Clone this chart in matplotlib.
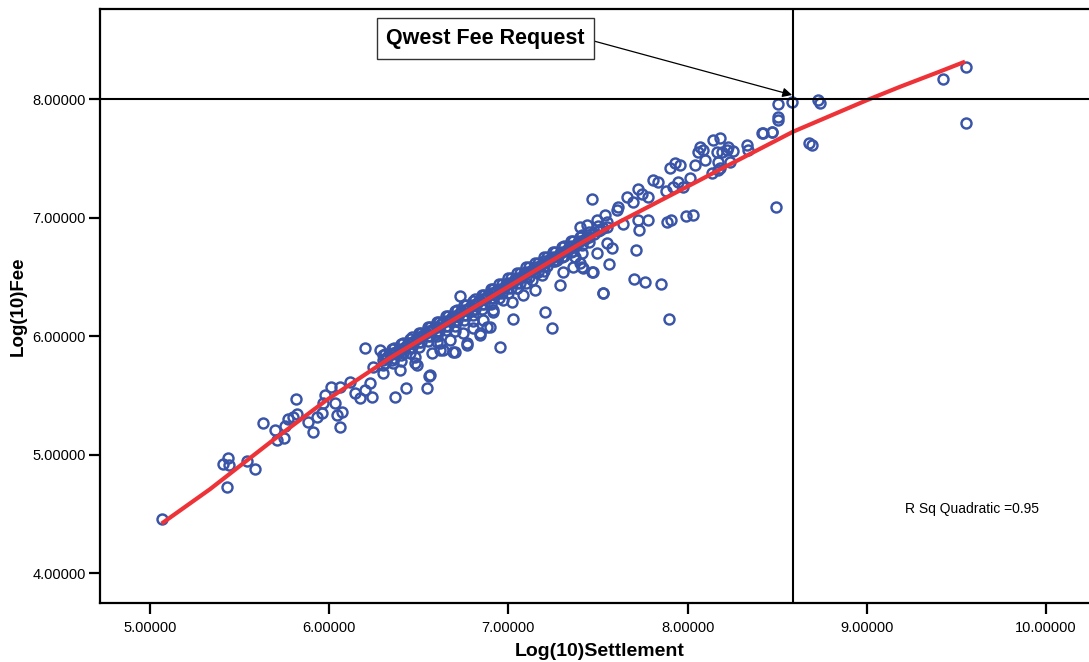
import matplotlib
matplotlib.use("Agg")
import matplotlib.pyplot as plt
import numpy as np

plt.rcParams['font.family'] = ['Liberation Sans', 'DejaVu Sans']

# ---- scatter data: Log(10)Settlement vs Log(10)Fee ----
settle_low = [5.065, 5.409, 5.437, 5.443, 5.431, 5.543, 5.586, 5.632, 5.698, 5.707,
              5.748, 5.753, 5.772, 5.800, 5.822, 5.815, 5.884, 5.911, 5.930, 5.958,
              5.964, 5.977, 6.008, 6.032, 6.042, 6.070, 6.060, 6.060, 6.116, 6.144,
              6.172, 6.200, 6.237, 6.228, 6.200, 6.283, 6.246, 6.302, 6.358, 6.367,
              6.358, 6.395]
fee_low = [4.459, 4.920, 4.970, 4.914, 4.726, 4.948, 4.880, 5.266, 5.209, 5.125,
           5.139, 5.243, 5.300, 5.316, 5.344, 5.470, 5.279, 5.195, 5.316, 5.350,
           5.434, 5.504, 5.574, 5.440, 5.336, 5.363, 5.237, 5.574, 5.616, 5.519,
           5.476, 5.546, 5.490, 5.603, 5.898, 5.884, 5.743, 5.687, 5.771, 5.490,
           5.856, 5.715]

settle_mid = [6.559, 6.544, 6.479, 6.693, 6.618, 6.953, 6.916, 6.879, 6.767, 6.842,
              6.488, 6.730, 7.027, 7.018, 7.204, 7.242, 7.288, 7.148, 7.465, 7.530,
              7.418, 7.362, 7.306, 6.916, 6.842, 6.767, 6.702, 6.637, 6.572, 6.479,
              6.860, 6.897, 6.804, 6.748, 6.674, 6.618, 7.130, 7.186, 7.046, 6.972,
              7.083, 7.372, 7.400, 7.493, 7.270, 6.563, 6.427]
fee_mid = [5.664, 5.560, 5.771, 5.870, 5.884, 5.911, 6.207, 6.080, 5.940, 6.024,
           5.757, 6.339, 6.142, 6.291, 6.201, 6.067, 6.432, 6.390, 6.544, 6.367,
           6.572, 6.586, 6.544, 6.221, 6.010, 5.926, 5.870, 5.884, 5.856, 5.827,
           6.137, 6.080, 6.067, 6.024, 5.968, 5.940, 6.474, 6.516, 6.404, 6.305,
           6.347, 6.670, 6.615, 6.699, 6.642, 5.673, 5.560]

settle_band = [6.30, 6.30, 6.30, 6.35, 6.35, 6.35, 6.40, 6.40, 6.40, 6.40,
               6.45, 6.45, 6.45, 6.45, 6.50, 6.50, 6.50, 6.50, 6.55, 6.55,
               6.55, 6.55, 6.60, 6.60, 6.60, 6.60, 6.60, 6.65, 6.65, 6.65,
               6.65, 6.70, 6.70, 6.70, 6.70, 6.70, 6.75, 6.75, 6.75, 6.75,
               6.80, 6.80, 6.80, 6.80, 6.80, 6.85, 6.85, 6.85, 6.85, 6.90,
               6.90, 6.90, 6.90, 6.95, 6.95, 6.95, 6.95, 7.00, 7.00, 7.00,
               7.00, 7.05, 7.05, 7.05, 7.05, 7.10, 7.10, 7.10, 7.10, 7.15,
               7.15, 7.15, 7.20, 7.20, 7.20, 7.20, 7.25, 7.25, 7.25, 7.30,
               7.30, 7.30, 7.35, 7.35, 7.35, 7.40, 7.40, 7.45, 7.45, 7.45,
               7.50, 7.50, 7.55, 7.55, 6.325, 6.375, 6.425, 6.475, 6.525, 6.575,
               6.625, 6.675, 6.725, 6.775, 6.825, 6.875, 6.925, 6.975, 7.025, 7.075,
               7.125, 7.175, 7.225, 7.275, 7.325, 7.375, 7.425, 7.475, 7.525]
fee_band = [5.84, 5.80, 5.76, 5.89, 5.85, 5.80, 5.93, 5.88, 5.84, 5.79,
            5.98, 5.94, 5.90, 5.86, 6.03, 5.99, 5.95, 5.91, 6.08, 6.04,
            6.00, 5.96, 6.12, 6.08, 6.04, 6.00, 5.95, 6.17, 6.13, 6.09,
            6.05, 6.21, 6.17, 6.13, 6.09, 6.04, 6.26, 6.22, 6.18, 6.14,
            6.30, 6.26, 6.22, 6.18, 6.13, 6.35, 6.31, 6.27, 6.23, 6.40,
            6.36, 6.32, 6.27, 6.44, 6.40, 6.36, 6.32, 6.49, 6.45, 6.41,
            6.36, 6.53, 6.49, 6.45, 6.41, 6.58, 6.54, 6.50, 6.45, 6.62,
            6.58, 6.54, 6.67, 6.63, 6.59, 6.55, 6.71, 6.67, 6.63, 6.75,
            6.71, 6.67, 6.80, 6.76, 6.71, 6.84, 6.80, 6.88, 6.84, 6.79,
            6.93, 6.89, 6.96, 6.92, 5.82, 5.87, 5.91, 5.96, 6.01, 6.05,
            6.10, 6.14, 6.19, 6.23, 6.28, 6.32, 6.37, 6.41, 6.46, 6.50,
            6.55, 6.59, 6.64, 6.68, 6.73, 6.77, 6.82, 6.86, 6.91]

settle_band2 = [6.3125, 6.3625, 6.4125, 6.4625, 6.5125, 6.5625, 6.6125, 6.6625,
                6.7125, 6.7625, 6.8125, 6.8625, 6.9125, 6.9625, 7.0125, 7.0625,
                7.1125, 7.1625, 7.2125, 7.2625, 7.3125, 7.3625, 7.4125,
                6.3125, 6.3625, 6.4125, 6.4625, 6.5125, 6.5625, 6.6125, 6.6625,
                6.7125, 6.7625, 6.8125, 6.8625, 6.9125, 6.9625, 7.0125, 7.0625,
                7.1125, 7.1625, 7.2125, 7.2625, 7.3125, 7.3625, 7.4125,
                6.3375, 6.3875, 6.4375, 6.4875, 6.5375, 6.5875, 6.6375, 6.6875,
                6.7375, 6.7875, 6.8375, 6.8875, 6.9375, 6.9875, 7.0375, 7.0875,
                7.1375, 7.1875, 7.2375, 7.2875, 7.3375, 7.3875, 7.4375]
fee_band2 = [5.85, 5.90, 5.94, 5.99, 6.03, 6.08, 6.12, 6.17, 6.22, 6.26, 6.31, 6.35,
             6.40, 6.44, 6.49, 6.53, 6.58, 6.62, 6.67, 6.71, 6.76, 6.80, 6.85,
             5.77, 5.82, 5.86, 5.91, 5.95, 6.00, 6.04, 6.09, 6.14, 6.18, 6.23, 6.27,
             6.32, 6.36, 6.41, 6.45, 6.50, 6.54, 6.59, 6.63, 6.68, 6.72, 6.77,
             5.85, 5.89, 5.94, 5.98, 6.03, 6.07, 6.12, 6.16, 6.21, 6.25, 6.30, 6.35,
             6.39, 6.44, 6.48, 6.53, 6.57, 6.61, 6.66, 6.70, 6.75, 6.79, 6.84]

settle_high = [7.468, 7.409, 7.409, 7.470, 7.526, 7.561, 7.576, 7.548, 7.710, 7.701,
               7.762, 7.850, 7.896, 7.727, 7.781, 7.641, 7.887, 7.906, 7.991, 8.032,
               8.493, 7.400, 7.437, 7.493, 7.511, 7.539, 7.604, 7.613, 7.660, 7.697,
               7.725, 7.744, 7.781, 7.809, 7.837, 7.880, 7.902, 7.930, 7.958, 7.948,
               7.920, 7.976, 8.013, 8.041, 8.060, 8.088, 8.097, 8.134, 8.143, 8.181,
               8.171, 8.190, 8.218, 8.162, 8.251, 8.237, 8.330, 8.413, 8.469, 8.506,
               8.506, 8.581, 8.506, 8.419, 8.469, 8.730, 8.739, 8.679, 8.694, 9.552,
               9.427, 9.552, 7.725, 8.181, 8.339, 8.069, 8.227, 8.171]
fee_high = [7.154, 6.699, 6.586, 6.544, 6.362, 6.609, 6.741, 6.783, 6.727, 6.485,
            6.457, 6.437, 6.142, 6.895, 6.980, 6.943, 6.966, 6.980, 7.013, 7.025,
            7.092, 6.923, 6.938, 6.980, 6.895, 7.022, 7.064, 7.092, 7.171, 7.134,
            7.239, 7.200, 7.177, 7.317, 7.303, 7.227, 7.416, 7.458, 7.444, 7.303,
            7.261, 7.261, 7.331, 7.444, 7.556, 7.570, 7.486, 7.374, 7.654, 7.669,
            7.471, 7.556, 7.570, 7.556, 7.564, 7.471, 7.612, 7.711, 7.720, 7.823,
            7.955, 7.977, 7.851, 7.716, 7.724, 7.990, 7.969, 7.632, 7.612, 7.800,
            8.166, 8.272, 6.980, 7.416, 7.570, 7.598, 7.598, 7.401]

# quadratic fit line
fit_x = [5.065, 5.335, 5.688, 5.986, 6.339, 6.953, 7.400, 7.567, 8.069, 8.143,
         8.588, 9.000, 9.185, 9.408, 9.548]
fit_y = [4.420, 4.710, 5.125, 5.462, 5.816, 6.375, 6.780, 6.923, 7.317, 7.376,
         7.724, 7.990, 8.103, 8.232, 8.315]

ref_x = 8.59          # vertical reference line
ref_y = 8.0           # horizontal reference line
x_ticks = [5.0, 6.0, 7.0, 8.0, 9.0, 10.0]
y_ticks = [4.0, 5.0, 6.0, 7.0, 8.0]

settle = settle_low + settle_mid + settle_band + settle_band2 + settle_high
fee = fee_low + fee_mid + fee_band + fee_band2 + fee_high

W, H = 1089, 662
fig = plt.figure(figsize=(W / 100, H / 100), dpi=100)
ax = fig.add_axes([100 / W, 59 / H, 1000 / W, 594 / H])

ax.plot(settle, fee, linestyle='none', marker='o', markersize=7.2,
        markerfacecolor='none', markeredgecolor='#3a55a8', markeredgewidth=1.75,
        zorder=3)
ax.plot(fit_x, fit_y, color='#ee3338', linewidth=3.0, solid_capstyle='butt', zorder=4)

ax.axhline(ref_y, color='black', linewidth=1.5, zorder=5)
ax.axvline(ref_x, color='black', linewidth=1.5, zorder=5)

ax.set_xlim(4.721, 10.301)
ax.set_ylim(3.750, 8.759)
ax.set_xticks(x_ticks)
ax.set_yticks(y_ticks)
ax.set_xticklabels([f"{v:.5f}" for v in x_ticks])
ax.set_yticklabels([f"{v:.5f}" for v in y_ticks])
ax.tick_params(direction='out', length=8, width=1.6, labelsize=10.5, colors='black')
ax.tick_params(axis='y', pad=2)
ax.tick_params(axis='x', pad=5)
for s in ['left', 'bottom', 'top', 'right']:
    ax.spines[s].set_linewidth(1.6)

ax.set_xlabel('Log(10)Settlement', fontsize=14, fontweight='bold', labelpad=6)
ax.set_ylabel('Log(10)Fee', fontsize=13.5, fontweight='bold', labelpad=4)

ax.annotate('Qwest Fee Request', xy=(8.583, 8.034), xytext=(6.872, 8.51),
            ha='center', va='center', fontsize=15.5, fontweight='bold',
            bbox=dict(boxstyle='square,pad=0.45', fc='white', ec='#333333', lw=1.0),
            arrowprops=dict(arrowstyle='-|>', color='black', lw=0.9,
                            mutation_scale=14, shrinkA=0, shrinkB=0,
                            relpos=(1.0, 0.5)),
            zorder=6)

ax.text(9.587, 4.543, 'R Sq Quadratic =0.95', ha='center', va='center', fontsize=10)

fig.savefig('out.png', dpi=100)
